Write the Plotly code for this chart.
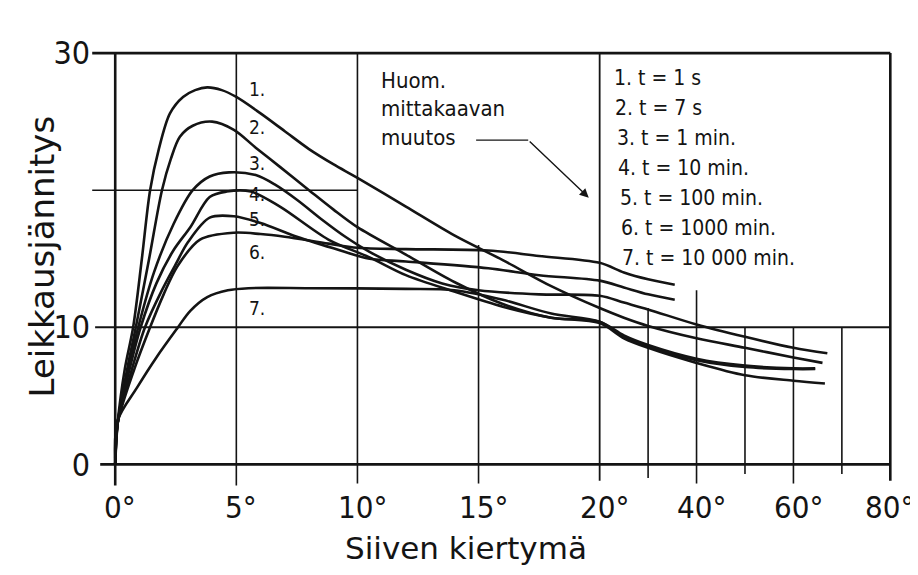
import plotly.graph_objects as go

# Siiven kiertymä (astetta) ja leikkausjännitys käyrille 1-7
x1 = [0, 0.1, 0.4, 0.74, 1.1, 1.44, 1.8, 2.26, 2.8, 3.3, 3.8, 4.4, 5, 6, 7, 8, 9, 10, 12, 14, 16, 18, 20, 25, 30, 40, 50, 60, 66]
y1 = [0, 3, 7, 10, 15, 20, 23, 25.6, 26.8, 27.3, 27.5, 27.3, 26.8, 25.6, 24.3, 23.0, 21.9, 20.9, 18.8, 16.7, 14.9, 13.0, 11.4, 10.7, 10.1, 9.2, 8.5, 7.8, 7.4]

x2 = [0, 0.1, 0.5, 0.85, 1.4, 1.93, 2.3, 2.67, 3.2, 4.0, 4.9, 5.8, 6.8, 8, 9, 10, 12, 14, 16, 18, 20, 25, 30, 40, 50, 60, 64.5]
y2 = [0, 3, 7, 10, 15, 20, 22.3, 23.9, 24.7, 25.0, 24.4, 23.1, 21.7, 20.0, 18.6, 17.3, 15.3, 13.3, 11.7, 10.7, 10.4, 9.4, 8.7, 7.7, 7.2, 7.0, 7.0]

x3 = [0, 0.1, 0.55, 0.95, 1.6, 2.4, 3.2, 3.9, 4.7, 5.8, 6.6, 7.5, 8.5, 9.5, 10.5, 12, 13.5, 15, 17.5, 20, 25, 30, 40, 50, 60, 67]
y3 = [0, 3, 7, 10, 14, 17.5, 20, 21.0, 21.3, 21.1, 20.4, 19.3, 17.9, 16.6, 15.5, 14.2, 13.2, 12.7, 12.4, 12.3, 11.8, 11.3, 10.2, 9.3, 8.5, 8.1]

x4 = [0, 0.1, 0.6, 1.05, 1.7, 2.4, 3.1, 3.9, 4.6, 5.6, 6.8, 8.8, 10.5, 12, 14, 16, 18, 20, 25, 30, 40, 50, 60, 66.5]
y4 = [0, 3, 7, 10, 13.2, 15.6, 17.3, 19.5, 19.9, 19.9, 18.8, 16.4, 15.1, 13.8, 12.6, 11.5, 10.7, 10.3, 9.2, 8.5, 7.4, 6.5, 6.1, 5.9]

x5 = [0, 0.1, 0.7, 1.23, 1.9, 2.5, 3.0, 3.9, 4.9, 6, 7.5, 9.3, 10.5, 12, 15.4, 17.5, 20, 25, 30, 35.5]
y5 = [0, 3, 7, 10, 12.6, 14.6, 16.2, 18.0, 18.1, 17.6, 16.6, 15.6, 15.0, 14.8, 14.3, 13.8, 13.4, 12.9, 12.4, 12.0]

x6 = [0, 0.1, 0.8, 1.44, 2.0, 2.55, 3.5, 4.9, 6, 7, 8.8, 10, 12, 15.4, 17.5, 20, 25, 30, 35.5]
y6 = [0, 3, 7, 10, 12.4, 14.4, 16.4, 16.9, 16.8, 16.6, 16.1, 15.8, 15.7, 15.6, 15.2, 14.7, 14.0, 13.5, 13.1]

x7 = [0, 0.1, 0.9, 1.7, 2.55, 3.1, 3.8, 4.65, 5.5, 8, 12, 14, 16, 18, 20, 25, 30, 40, 50, 60, 64.5]
y7 = [0, 3.2, 5.6, 7.8, 9.9, 11.2, 12.2, 12.7, 12.85, 12.85, 12.8, 12.7, 12.0, 11.0, 10.4, 9.3, 8.6, 7.6, 7.1, 6.95, 6.95]

curves = [(x1, y1), (x2, y2), (x3, y3), (x4, y4), (x5, y5), (x6, y6), (x7, y7)]

x_ticks = [0, 5, 10, 15, 20, 40, 60, 80]
y_ticks = [0, 10, 30]

legend_lines = [
    "1. t = 1 s",
    "2. t = 7 s",
    "3. t = 1 min.",
    "4. t = 10 min.",
    "5. t = 100 min.",
    "6. t = 1000 min.",
    "7. t = 10 000 min.",
]

# mittakaavan muutos 20° jälkeen: 20...80° puristettu 1:5
def brk(d):
    return d if d <= 20 else 20 + (d - 20) / 5.0


FONT = "DejaVu Sans Condensed, DejaVu Sans, sans-serif"
INK = "#141414"

# sivun body-marginaali 8 px → kuva 910x567
W, H = 910, 567
L, R, T, B = 82.8, 18.3, 40.9, 86.3
pw, ph = W - L - R, H - T - B


def px_x(p):  # sivun pikseli → paper
    return (p - 8 - L) / pw


def px_y(p):
    return (H - (p - 8) - B) / ph


fig = go.Figure()
for xs, ys in curves:
    fig.add_trace(go.Scatter(
        x=[brk(v) for v in xs], y=ys, mode="lines",
        line=dict(color=INK, width=2.6, shape="spline", smoothing=0.9),
        showlegend=False, hoverinfo="skip",
    ))

# ── ruudukko (osittaiset viivat kuten alkuperäisessä) ──
def seg(x0, y0, x1_, y1_, w=1.6):
    fig.add_shape(type="line", x0=x0, y0=y0, x1=x1_, y1=y1_,
                  line=dict(color=INK, width=w), layer="below")

seg(-0.95, 30, 32, 30, 2.6)
seg(-0.95, 20, 10, 20, 1.6)
seg(-0.83, 10, 32, 10, 1.9)
seg(-0.62, 0, 32, 0, 2.6)
seg(0, -1.55, 0, 30, 2.6)
seg(5, -1.55, 5, 30)
seg(10, -1.4, 10, 30)
seg(15, -1.4, 15, 16)
seg(20, -1.2, 20, 30, 1.8)
seg(brk(30), -1.0, brk(30), 11.4)
seg(brk(40), -1.4, brk(40), 12.7)
seg(brk(50), -0.7, brk(50), 10)
seg(brk(60), -1.4, brk(60), 10)
seg(brk(70), -0.7, brk(70), 10)
seg(brk(80), -1.2, brk(80), 30, 2.6)

# x-akselin asteet
for v in x_ticks:
    fig.add_annotation(x=brk(v), y=px_y(507), xref="x", yref="paper",
                       text=f"{v}°", showarrow=False, xanchor="center", yanchor="middle",
                       xshift=5 if v < 80 else -1, font=dict(family=FONT, size=31, color=INK))

# käyrien numerot
for i, yy in enumerate([27.4, 24.6, 22.0, 19.7, 17.9, 15.5, 11.4]):
    fig.add_annotation(x=5.45, y=yy, text=f"{i + 1}.", showarrow=False,
                       xanchor="left", yanchor="middle",
                       font=dict(family=FONT, size=19, color=INK))

# selitteet
for i, txt in enumerate(legend_lines):
    fig.add_annotation(x=20.5 + i * 0.06, y=28.2 - i * 2.19, text=txt, showarrow=False,
                       xanchor="left", yanchor="middle",
                       font=dict(family=FONT, size=21, color=INK))

# Huom. mittakaavan muutos + nuoli
for i, txt in enumerate(["Huom.", "mittakaavan", "muutos"]):
    fig.add_annotation(x=10.9, y=28.0 - i * 2.07, text=txt, showarrow=False,
                       xanchor="left", yanchor="middle",
                       font=dict(family=FONT, size=22, color=INK))
seg(14.9, 23.65, 17.05, 23.65, 1.4)
fig.add_annotation(x=19.55, y=19.45, ax=17.05, ay=23.65, axref="x", ayref="y",
                   xref="x", yref="y", text="", showarrow=True,
                   arrowhead=2, arrowsize=1.3, arrowwidth=1.4, arrowcolor=INK)

# akselien otsikot
fig.add_annotation(x=px_x(466), y=px_y(548), xref="paper", yref="paper",
                   text="Siiven kiertymä", showarrow=False,
                   xanchor="center", yanchor="middle",
                   font=dict(family="DejaVu Sans, sans-serif", size=31, color=INK))
fig.add_annotation(x=px_x(42), y=px_y(256), xref="paper", yref="paper",
                   text="Leikkausjännitys", textangle=-90, showarrow=False,
                   xanchor="center", yanchor="middle",
                   font=dict(family="DejaVu Sans, sans-serif", size=34, color=INK))

fig.update_layout(
    width=W, height=H,
    margin=dict(l=L, r=R, t=T, b=B, autoexpand=False),
    paper_bgcolor="white", plot_bgcolor="white",
    xaxis=dict(range=[-1, 32.4], showgrid=False, zeroline=False, showline=False,
               showticklabels=False, ticks="", automargin=False),
    yaxis=dict(range=[-1.8, 30.3], showgrid=False, zeroline=False, showline=False,
               tickvals=y_ticks, ticktext=[str(v) for v in y_ticks], automargin=False,
               ticks="", tickfont=dict(family=FONT, size=32, color=INK)),
    showlegend=False,
)

fig.write_html("out.html")
